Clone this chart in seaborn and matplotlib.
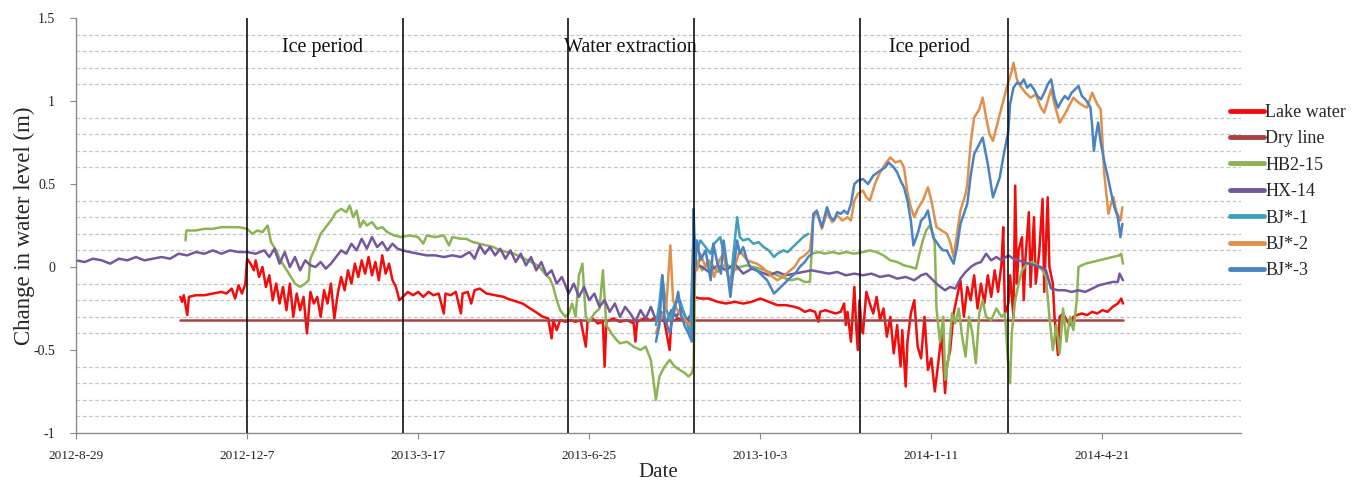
import numpy as np
import pandas as pd
import matplotlib
matplotlib.use("Agg")
import matplotlib.pyplot as plt
import seaborn as sns

# Days counted from 2012-8-29
tick_days = [0, 100, 200, 300, 400, 500, 600]
tick_labels = ["2012-8-29", "2012-12-7", "2013-3-17", "2013-6-25",
               "2013-10-3", "2014-1-11", "2014-4-21"]
period_bounds = [100, 191.2, 287.7, 361.4, 458.5, 545]
period_names = ["Ice period", "Water extraction", "Ice period"]
period_label_days = [144, 324, 499]

lake_days = [61, 62, 63, 65, 66, 70, 75, 80, 85, 88, 91, 93, 95, 97, 99, 100, 102, 104, 105, 107,
             109, 111, 113, 115, 117, 119, 121, 123, 125, 127, 129, 131, 133, 135, 137, 139, 141,
             143, 145, 147, 149, 151, 153, 155, 157, 159, 161, 163, 165, 167, 169, 171, 173, 175,
             177, 179, 181, 183, 185, 187, 189, 191, 194, 197, 200, 203, 206, 209, 212, 215, 216,
             219, 222, 225, 226, 229, 231, 233, 236, 240, 245, 250, 252, 255, 258, 261, 264, 267,
             270, 273, 276, 278, 279, 281, 283, 286, 289, 292, 295, 298, 299, 302, 305, 308, 309,
             310, 314, 318, 322, 326, 327, 328, 332, 336, 340, 344, 347, 348, 352, 356, 360, 361,
             365, 370, 375, 380, 385, 390, 395, 400, 405, 410, 415, 420, 423, 426, 429, 432, 434,
             435, 438, 441, 444, 447, 449, 450, 451, 453, 454, 455, 456, 457, 458, 459, 460, 462,
             464, 466, 468, 470, 472, 474, 476, 478, 480, 482, 483, 485, 486, 488, 490, 492, 494,
             496, 498, 500, 502, 504, 506, 508, 509, 511, 513, 515, 517, 519, 521, 523, 525, 527,
             529, 531, 533, 535, 537, 539, 541, 542, 543, 545, 546, 548, 549, 550, 551, 553, 554,
             555, 557, 558, 559, 560, 561, 563, 565, 566, 567, 568, 569, 571, 572, 574, 575, 577,
             579, 581, 583, 585, 588, 591, 594, 597, 600, 603, 606, 609, 611, 612]
lake_vals = [-0.18, -0.21, -0.17, -0.29, -0.18, -0.17, -0.17, -0.16, -0.15, -0.16, -0.13, -0.19,
             -0.11, -0.16, -0.10, 0.05, 0.02, -0.02, 0.04, -0.06, 0.0, -0.12, -0.05, -0.20, -0.10,
             -0.22, -0.12, -0.26, -0.10, -0.30, -0.16, -0.26, -0.18, -0.40, -0.15, -0.22, -0.18,
             -0.30, -0.14, -0.22, -0.10, -0.31, -0.16, -0.06, -0.14, -0.02, -0.10, 0.02, -0.06,
             0.04, -0.04, 0.06, -0.05, 0.03, -0.08, 0.07, -0.04, 0.02, -0.08, -0.12, -0.20, -0.18,
             -0.15, -0.17, -0.15, -0.18, -0.15, -0.17, -0.16, -0.28, -0.16, -0.17, -0.15, -0.28,
             -0.16, -0.15, -0.22, -0.14, -0.13, -0.16, -0.17, -0.18, -0.19, -0.20, -0.21, -0.22,
             -0.24, -0.26, -0.28, -0.30, -0.31, -0.43, -0.32, -0.38, -0.32, -0.33, -0.32, -0.33,
             -0.32, -0.48, -0.33, -0.31, -0.34, -0.33, -0.60, -0.33, -0.31, -0.33, -0.32, -0.34,
             -0.45, -0.33, -0.31, -0.32, -0.30, -0.33, -0.50, -0.33, -0.31, -0.33, -0.32, -0.18,
             -0.19, -0.19, -0.21, -0.22, -0.21, -0.22, -0.21, -0.19, -0.21, -0.23, -0.23, -0.24,
             -0.25, -0.27, -0.26, -0.27, -0.33, -0.27, -0.26, -0.27, -0.28, -0.27, -0.22, -0.35,
             -0.27, -0.45, -0.28, -0.12, -0.35, -0.50, -0.20, -0.35, -0.40, -0.15, -0.22, -0.28,
             -0.18, -0.32, -0.25, -0.42, -0.30, -0.52, -0.35, -0.60, -0.38, -0.72, -0.45, -0.28,
             -0.20, -0.48, -0.55, -0.30, -0.62, -0.55, -0.75, -0.58, -0.40, -0.76, -0.60, -0.50,
             -0.28, -0.18, -0.08, -0.30, -0.12, -0.20, -0.05, -0.25, -0.10, -0.22, -0.05, -0.18,
             -0.02, -0.15, 0.02, 0.24, -0.28, -0.22, -0.05, -0.30, 0.49, -0.10, 0.10, 0.18, -0.20,
             0.05, 0.33, -0.12, 0.10, 0.30, -0.10, 0.08, 0.41, -0.15, 0.15, 0.42, 0.0, -0.10,
             -0.30, -0.53, -0.30, -0.28, -0.32, -0.35, -0.30, -0.29, -0.28, -0.29, -0.27, -0.28,
             -0.26, -0.27, -0.24, -0.22, -0.19, -0.22]

dry_days = [61, 612]
dry_vals = [-0.32, -0.32]

hb_days = [64, 64.5, 70, 75, 80, 85, 90, 95, 100, 103, 106, 109, 112, 114, 117, 119, 122, 125,
           128, 131, 134, 136, 137, 140, 143, 146, 149, 152, 155, 158, 160, 162, 164, 166, 168,
           170, 173, 176, 179, 182, 186, 190, 195, 200, 203, 205, 210, 215, 218, 220, 225, 228,
           232, 236, 240, 244, 248, 252, 256, 260, 264, 268, 271, 274, 277, 279, 281, 283, 286,
           288, 290, 292, 294, 296, 298, 300, 303, 306, 308, 310, 313, 316, 318, 322, 326, 330,
           333, 336, 338, 339, 341, 344, 347, 350, 353, 356, 358, 360, 361, 362, 366, 370, 375,
           380, 385, 388, 392, 396, 400, 405, 410, 415, 418, 422, 426, 429, 430, 434, 438, 442,
           446, 450, 455, 460, 464, 468, 472, 476, 480, 484, 488, 491, 493, 495, 497, 499, 501,
           502, 503, 505, 507, 508, 510, 512, 514, 516, 518, 520, 522, 524, 526, 528, 530, 532,
           535, 538, 541, 543, 545, 546, 547, 549, 551, 553, 556, 559, 562, 565, 567, 569, 571,
           573, 575, 577, 579, 581, 583, 585, 586, 590, 594, 598, 602, 606, 610, 611, 612]
hb_vals = [0.16, 0.22, 0.22, 0.23, 0.23, 0.24, 0.24, 0.24, 0.23, 0.20, 0.22, 0.21, 0.25, 0.15,
           0.10, 0.05, 0.0, -0.05, -0.10, -0.12, -0.10, -0.08, 0.05, 0.12, 0.20, 0.24, 0.28,
           0.33, 0.35, 0.33, 0.37, 0.30, 0.34, 0.24, 0.28, 0.25, 0.27, 0.23, 0.24, 0.21, 0.19,
           0.18, 0.19, 0.18, 0.14, 0.19, 0.18, 0.19, 0.13, 0.18, 0.17, 0.17, 0.15, 0.14, 0.13,
           0.12, 0.10, 0.09, 0.08, 0.06, 0.04, 0.02, 0.0, -0.04, -0.07, -0.12, -0.20, -0.26,
           -0.30, -0.28, -0.22, -0.30, -0.05, 0.02, -0.30, -0.33, -0.28, -0.25, -0.02, -0.35,
           -0.40, -0.44, -0.46, -0.45, -0.48, -0.50, -0.48, -0.56, -0.72, -0.80, -0.66, -0.60,
           -0.56, -0.60, -0.62, -0.64, -0.66, -0.64, -0.60, 0.05, -0.02, 0.04, -0.03, 0.02,
           -0.02, 0.0, 0.01, 0.0, -0.01, -0.03, -0.05, -0.07, -0.08, -0.07, -0.09, -0.09, 0.08,
           0.09, 0.08, 0.09, 0.08, 0.09, 0.08, 0.09, 0.10, 0.09, 0.07, 0.04, 0.03, 0.01, 0.0,
           -0.01, 0.08, 0.16, 0.22, 0.25, 0.20, 0.14, -0.25, -0.45, -0.30, -0.68, -0.55, -0.28,
           -0.34, -0.25, -0.42, -0.54, -0.30, -0.40, -0.58, -0.28, -0.20, -0.30, -0.32, -0.25,
           -0.30, -0.28, -0.60, -0.70, -0.40, -0.20, -0.10, -0.02, 0.02, 0.03, 0.01, -0.02,
           -0.06, -0.30, -0.50, -0.35, -0.52, -0.25, -0.45, -0.30, -0.38, -0.20, 0.0, 0.02, 0.03,
           0.04, 0.05, 0.06, 0.07, 0.08, 0.02]

hx_days = [0, 5, 10, 15, 20, 25, 30, 35, 40, 45, 50, 55, 60, 65, 70, 75, 80, 85, 90, 95, 100,
           105, 110, 113, 116, 119, 122, 125, 128, 131, 134, 137, 140, 143, 146, 149, 152, 155,
           158, 161, 164, 167, 170, 173, 176, 179, 182, 185, 188, 191, 195, 200, 205, 210, 215,
           220, 225, 230, 233, 236, 239, 242, 245, 248, 251, 254, 257, 260, 263, 266, 269, 272,
           275, 278, 281, 284, 288, 291, 294, 297, 300, 303, 306, 309, 312, 315, 318, 321, 324,
           327, 330, 333, 336, 339, 342, 345, 348, 351, 354, 357, 360, 362, 366, 370, 375, 380,
           385, 390, 395, 400, 405, 410, 415, 420, 425, 430, 435, 440, 445, 450, 455, 460, 465,
           470, 475, 480, 485, 490, 494, 497, 500, 504, 508, 511, 514, 517, 520, 523, 526, 529,
           532, 535, 538, 541, 545, 548, 551, 554, 557, 560, 564, 567, 570, 574, 578, 582, 586,
           590, 594, 598, 602, 606, 609, 610, 612]
hx_vals = [0.04, 0.03, 0.05, 0.04, 0.02, 0.05, 0.04, 0.06, 0.04, 0.05, 0.06, 0.05, 0.08, 0.07,
           0.09, 0.08, 0.10, 0.08, 0.10, 0.09, 0.09, 0.08, 0.10, 0.06, 0.11, 0.02, 0.09, 0.0,
           0.06, -0.02, 0.04, 0.01, 0.0, 0.03, -0.01, 0.02, 0.06, 0.10, 0.08, 0.14, 0.10, 0.17,
           0.11, 0.18, 0.12, 0.15, 0.10, 0.14, 0.11, 0.10, 0.09, 0.08, 0.07, 0.07, 0.06, 0.07,
           0.06, 0.09, 0.05, 0.13, 0.08, 0.12, 0.07, 0.11, 0.05, 0.10, 0.03, 0.08, 0.01, 0.06,
           -0.02, 0.03, -0.05, -0.02, -0.10, -0.06, -0.16, -0.10, -0.18, -0.12, -0.20, -0.16,
           -0.24, -0.20, -0.27, -0.22, -0.30, -0.24, -0.28, -0.33, -0.26, -0.31, -0.24, -0.32,
           -0.27, -0.34, -0.26, -0.30, -0.24, -0.32, -0.28, 0.02, 0.0, -0.03, 0.01, -0.02, 0.02,
           -0.04, -0.01, -0.03, -0.05, -0.03, -0.05, -0.04, -0.03, -0.02, -0.03, -0.04, -0.03,
           -0.05, -0.04, -0.05, -0.04, -0.06, -0.05, -0.07, -0.06, -0.08, -0.05, -0.04, -0.07,
           -0.11, -0.14, -0.12, -0.13, -0.07, -0.03, 0.0, 0.02, 0.03, 0.08, 0.04, 0.06, 0.04,
           0.07, 0.05, 0.04, 0.03, 0.02, 0.01, 0.0, -0.02, -0.13, -0.14, -0.14, -0.15, -0.14,
           -0.15, -0.13, -0.11, -0.10, -0.09, -0.09, -0.04, -0.08]

bj1_days = [339, 341, 342.7, 345, 347, 350, 353, 356, 359, 361, 363, 365, 368, 370.8, 373,
            376.6, 379, 382.5, 384, 386.5, 388, 390, 393, 396, 399, 402, 405, 408, 410, 413.5,
            416, 419, 422, 425, 428]
bj1_vals = [-0.35, -0.22, -0.05, -0.25, -0.32, -0.22, -0.20, -0.30, -0.40, 0.20, 0.10, 0.16,
            0.12, 0.08, 0.14, 0.18, 0.06, -0.12, 0.05, 0.30, 0.18, 0.16, 0.17, 0.14, 0.15, 0.12,
            0.10, 0.06, 0.08, 0.10, 0.09, 0.12, 0.15, 0.18, 0.20]

bj2_days = [339, 342, 345, 347.4, 349, 351, 354, 357, 360, 361, 363, 365, 368, 370.8, 373, 376,
            378.4, 380, 382.5, 385, 388, 390, 392.4, 395, 398, 401, 404, 406, 410, 413, 417.5,
            420, 423, 426, 429, 431, 433, 436, 439, 442, 445, 448, 451, 453, 455, 457, 460, 462,
            464, 467, 470, 473, 476, 479, 482, 484, 486, 488, 490, 492, 495, 498, 500, 503, 506,
            509, 511, 513, 515, 517, 520, 521, 523, 525, 528, 530, 532, 534, 536, 539, 542, 544,
            547, 548, 550, 552, 555, 558, 561, 564, 566, 568, 570, 572, 575, 578, 581, 583, 586,
            589, 591, 594, 597, 599, 601, 603.5, 605, 606.4, 608, 610.5, 611.7]
bj2_vals = [-0.40, -0.30, -0.25, 0.13, -0.20, -0.25, -0.30, -0.33, -0.36, 0.10, -0.02, 0.08,
            0.0, 0.02, -0.06, 0.04, 0.08, 0.0, -0.12, 0.0, 0.10, 0.07, 0.04, 0.03, 0.02, 0.0,
            -0.03, -0.05, -0.08, -0.06, -0.02, 0.0, 0.05, 0.07, 0.10, 0.30, 0.33, 0.23, 0.33,
            0.27, 0.31, 0.28, 0.30, 0.28, 0.40, 0.44, 0.46, 0.42, 0.40, 0.50, 0.57, 0.62, 0.66,
            0.63, 0.64, 0.60, 0.45, 0.36, 0.30, 0.35, 0.40, 0.48, 0.40, 0.24, 0.22, 0.20, 0.15,
            0.06, 0.20, 0.34, 0.44, 0.50, 0.75, 0.90, 0.95, 1.02, 0.90, 0.80, 0.76, 0.88, 1.00,
            1.08, 1.18, 1.23, 1.13, 1.09, 1.05, 1.02, 1.04, 0.96, 0.93, 1.00, 1.07, 0.98, 0.87,
            0.92, 0.98, 1.02, 0.99, 0.97, 0.96, 1.05, 0.98, 0.95, 0.57, 0.32, 0.38, 0.42, 0.34,
            0.28, 0.36]

bj3_days = [339, 341, 342.7, 344, 347, 350, 352, 354, 356, 358, 360, 361, 362, 363, 365, 368,
            371, 372.5, 375, 377, 378.5, 380, 382.5, 384, 386.5, 388, 390, 392, 394, 398, 401,
            404, 406, 408, 410, 412, 415, 418, 421, 423, 426, 428, 430, 431, 433, 436, 439, 441,
            443, 445, 447, 449, 451, 453, 455, 457, 460, 463, 466, 470, 473, 475, 478, 480, 482,
            484, 486, 488, 489.5, 492, 494, 496, 498, 501, 503, 505, 507, 509, 511, 513, 515,
            517, 519, 521, 523, 525, 528, 530, 533, 536, 538, 540, 542, 545, 546, 548, 550, 552,
            554, 556, 558, 560, 562, 564, 566, 568, 570, 572, 574, 576, 578, 580, 582, 584, 586,
            588, 590, 592, 593, 594, 595, 596, 597.5, 599, 601, 603, 605, 607, 609, 610.5,
            611.7]
bj3_vals = [-0.45, -0.35, -0.05, -0.30, -0.40, -0.25, -0.15, -0.30, -0.36, -0.40, -0.45, 0.35,
            0.0, 0.16, 0.04, 0.10, -0.08, 0.14, 0.02, -0.04, 0.16, 0.05, -0.18, -0.04, 0.16,
            0.08, 0.12, 0.05, 0.0, -0.02, -0.05, -0.08, -0.12, -0.16, -0.14, -0.12, -0.09,
            -0.06, -0.03, 0.0, 0.03, 0.06, 0.08, 0.32, 0.34, 0.24, 0.36, 0.30, 0.28, 0.33, 0.32,
            0.34, 0.32, 0.38, 0.50, 0.52, 0.53, 0.50, 0.55, 0.58, 0.60, 0.63, 0.60, 0.57, 0.52,
            0.48, 0.40, 0.28, 0.13, 0.20, 0.28, 0.30, 0.34, 0.18, 0.15, 0.12, 0.10, 0.10, 0.06,
            0.02, 0.12, 0.26, 0.32, 0.38, 0.55, 0.68, 0.74, 0.78, 0.62, 0.42, 0.48, 0.54, 0.66,
            0.82, 0.98, 1.08, 1.11, 1.10, 1.13, 1.08, 1.10, 1.07, 1.03, 1.01, 1.05, 1.10, 1.13,
            1.02, 0.96, 1.00, 1.03, 1.01, 1.05, 1.07, 1.09, 1.03, 1.01, 0.98, 0.96, 0.85, 0.70,
            0.78, 0.87, 0.75, 0.64, 0.55, 0.45, 0.36, 0.30, 0.18, 0.26]

series_names = ["Lake water", "Dry line", "HB2-15", "HX-14", "BJ*-1", "BJ*-2", "BJ*-3"]
series_colors = ["#f20d0d", "#a64444", "#8db357", "#73589b", "#41a0b8", "#e0904c", "#4a82c2"]
series_data = [(lake_days, lake_vals), (dry_days, dry_vals), (hb_days, hb_vals),
               (hx_days, hx_vals), (bj1_days, bj1_vals), (bj2_days, bj2_vals),
               (bj3_days, bj3_vals)]

frames = []
for name, (d, v) in zip(series_names, series_data):
    frames.append(pd.DataFrame({"day": d, "level": v, "series": name}))
df = pd.concat(frames, ignore_index=True)

sns.set_style("ticks")
plt.rcParams["font.family"] = ["Liberation Serif", "DejaVu Serif"]

fig = plt.figure(figsize=(13.6, 4.84), dpi=100)
ax = fig.add_axes([0.0559, 0.1054, 0.8566, 0.8574])

sns.lineplot(data=df, x="day", y="level", hue="series", hue_order=series_names,
             palette=dict(zip(series_names, series_colors)), estimator=None, sort=False,
             linewidth=1.8, ax=ax)

ax.set_xlim(0, 681)
ax.set_ylim(-1, 1.5)

# dashed horizontal grid every 0.1
ax.set_yticks(np.round(np.arange(-1, 1.501, 0.1), 2), minor=True)
ax.yaxis.grid(True, which="minor", linestyle=(0, (3, 2)), color="#c4c4c4", linewidth=0.9)
ax.set_axisbelow(True)
ax.tick_params(axis="y", which="minor", length=0)

ax.set_yticks([-1, -0.5, 0, 0.5, 1, 1.5])
ax.set_yticklabels(["-1", "-0.5", "0", "0.5", "1", "1.5"])
ax.set_xticks(tick_days)
ax.set_xticklabels(tick_labels)
ax.tick_params(axis="both", which="major", colors="#222222",
               length=4, width=0.8, color="#888888")
ax.tick_params(axis="x", pad=8, labelsize=9.5)
ax.tick_params(axis="y", pad=11, labelsize=10)

for s in ["top", "right"]:
    ax.spines[s].set_visible(False)
for s in ["left", "bottom"]:
    ax.spines[s].set_color("#8a8a8a")
    ax.spines[s].set_linewidth(1.0)

for b in period_bounds:
    ax.axvline(b, color="#111111", linewidth=1.2, zorder=5)

for name, d in zip(period_names, period_label_days):
    ax.text(d, 1.32, name, ha="center", va="center", fontsize=14.5, color="#111111")

ax.set_xlabel("Date", fontsize=15, labelpad=1)
ax.set_ylabel("Change in water level (m)", fontsize=16.5, labelpad=-1)

handles, labels = ax.get_legend_handles_labels()
leg = ax.legend(handles, labels, loc="upper left", bbox_to_anchor=(0.899, 0.80),
                bbox_transform=fig.transFigure, frameon=False, fontsize=13,
                handlelength=1.9, handletextpad=0.05, labelspacing=0.52, borderaxespad=0)
for ln in leg.get_lines():
    ln.set_linewidth(3.5)

fig.savefig("out.png", dpi=100)
